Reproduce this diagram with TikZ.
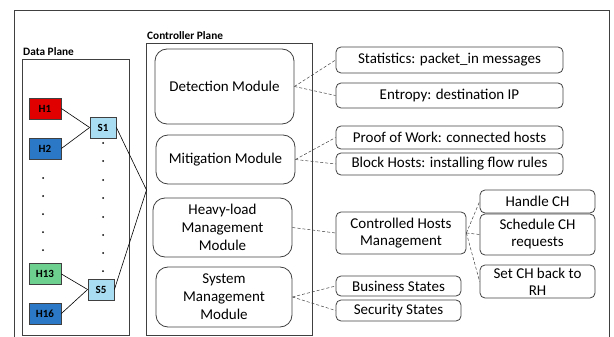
\documentclass[tikz,border=0pt]{standalone}
\usepackage{fontspec}
\setmainfont{Carlito}
\definecolor{hostred}{HTML}{E00000}
\definecolor{hostblue}{HTML}{2A78C6}
\definecolor{hostgreen}{HTML}{6ED08E}
\definecolor{switchblue}{HTML}{A8DDF2}
\definecolor{edgegray}{HTML}{404040}
\begin{document}
\begin{tikzpicture}[x=1pt,y=-1pt,
  frame/.style={draw=edgegray, line width=0.9pt},
  module/.style={draw=edgegray, line width=0.8pt, rounded corners=12pt, align=center,
    inner sep=0pt, font=\fontsize{15}{18}\selectfont},
  leaf/.style={draw=edgegray, line width=0.8pt, rounded corners=5pt, align=center,
    inner sep=0pt, font=\fontsize{15}{17}\selectfont},
  host/.style={draw=edgegray, line width=0.8pt, inner sep=0pt,
    minimum width=32pt, minimum height=21pt, font=\bfseries\fontsize{11}{12}\selectfont},
  switch/.style={host, fill=switchblue, minimum width=26pt},
  wire/.style={draw=black, line width=0.6pt},
  link/.style={draw=edgegray, line width=0.5pt, dash pattern=on 3pt off 2pt},
  planelabel/.style={anchor=base west, inner sep=0pt, font=\bfseries\fontsize{11.3}{12}\selectfont}
]
\useasboundingbox (0,0) rectangle (614,337);

% outer frame and the two planes
\draw[frame] (14,10) rectangle (609,350);
\draw[frame] (22,59) rectangle (129,335);
\draw[frame] (146.5,43) rectangle (312,335);
\node[planelabel] (dplabel) at (23,56) {Data Plane};
\node[planelabel] (cplabel) at (147,40) {Controller Plane};

% hosts and switches
\node[host, fill=hostred]   (h1)  at (45,108.5) {H1};
\node[host, fill=hostblue]  (h2)  at (45,148.5) {H2};
\node[host, fill=hostgreen] (h13) at (45,274)   {H13};
\node[host, fill=hostblue]  (h16) at (45,313.5) {H16};
\node[switch] (s1) at (103,127.5) {S1};
\node[switch] (s5) at (101,289.5) {S5};
\coordinate (cp) at (146.5,190);

\draw[wire] (h1.east) -- (s1.west);
\draw[wire] (h2.east) -- (s1.west);
\draw[wire] (h13.east) -- (s5.west);
\draw[wire] (h16.east) -- (s5.west);
\draw[wire] (s1.east) -- (cp);
\draw[wire] (s5.east) -- (cp);

% elided hosts and switches
\foreach \y in {178,196,214,232,250} \fill (43,\y) circle (1pt);
\foreach \y in {143,161,180,198,217,235,253,271} \fill (103,\y) circle (1pt);

% controller modules
\node[module, minimum width=139pt, minimum height=75pt] (det) at (224.5,86.5) {Detection Module};
\node[module, minimum width=139pt, minimum height=49pt] (mit) at (225.5,159.5) {Mitigation Module};
\node[module, minimum width=139pt, minimum height=59pt] (heavy) at (222.5,227.5) {Heavy-load\\Management\\Module};
\node[module, minimum width=136pt, minimum height=60pt] (sys) at (224,297) {System\\Management\\Module};

% module functions
\node[leaf, minimum width=227pt, minimum height=26pt] (stat) at (449.5,60) {Statistics: packet\_in messages};
\node[leaf, minimum width=227pt, minimum height=25pt] (ent) at (449.5,95.5) {Entropy: destination IP};
\node[leaf, minimum width=227pt, minimum height=23pt] (pow) at (449.5,137.5) {Proof of Work: connected hosts};
\node[leaf, minimum width=227pt, minimum height=22pt] (block) at (449.5,164) {Block Hosts: installing flow rules};
\node[leaf, minimum width=130pt, minimum height=42pt] (chm) at (401,233) {Controlled Hosts\\Management};
\node[leaf, minimum width=115pt, minimum height=23pt] (handle) at (537.5,201.5) {Handle CH};
\node[leaf, minimum width=115pt, minimum height=41pt] (sched) at (537.5,234.5) {Schedule CH\\requests};
\node[leaf, minimum width=115pt, minimum height=33pt] (setch) at (537.5,281.5) {Set CH back to\\RH};
\node[leaf, minimum width=125pt, minimum height=20pt] (bus) at (398.5,286) {Business States};
\node[leaf, minimum width=125pt, minimum height=21pt] (sec) at (398.5,310.5) {Security States};

% dashed relations
\draw[link] (det.east) -- (stat.west);
\draw[link] (det.east) -- (ent.west);
\draw[link] (mit.east) -- (pow.west);
\draw[link] (mit.east) -- (block.west);
\draw[link] (heavy.east) -- (chm.west);
\draw[link] (chm.east) -- (handle.west);
\draw[link] (chm.east) -- (sched.west);
\draw[link] (chm.east) -- (setch.west);
\draw[link] (sys.east) -- (bus.west);
\draw[link] (sys.east) -- (sec.west);
\end{tikzpicture}
\end{document}
